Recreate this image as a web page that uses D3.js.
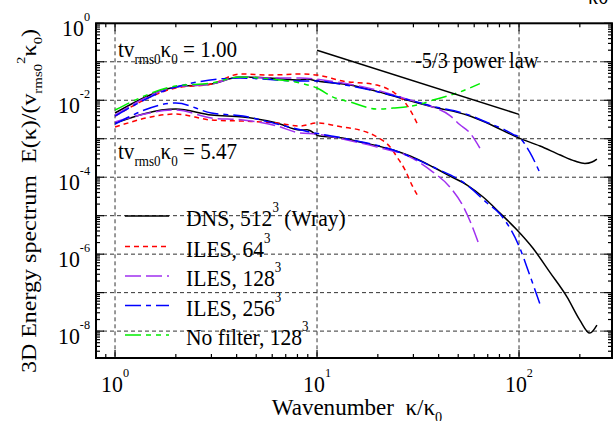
<!DOCTYPE html>
<html>
<head>
<meta charset="utf-8">
<script src="https://cdn.jsdelivr.net/npm/d3@7"></script>
<style>
  body { margin: 0; background: #fff; }
  svg { display: block; font-family: "Liberation Serif", "Times New Roman", serif; }
</style>
</head>
<body>
<svg id="chart" width="613" height="421"></svg>
<script>

// ---- data: [wavenumber k/k0, E(k)] ----
const dns_t1 = [[1, 4.66e-3], [2, 0.0221], [3, 0.0264], [4.16, 0.0402], [5.85, 0.0378], [8.24, 0.0336], [8.92, 0.0355], [10, 0.0316], [14.6, 0.0249], [21.2, 0.0154], [25.8, 0.0114], [37.5, 6.67e-3], [55.3, 4.13e-3], [69.5, 2.56e-3], [100, 1.04e-3], [127, 6.46e-4], [160, 3.77e-4], [189, 2.63e-4], [212, 2.27e-4], [230, 2.48e-4], [243, 2.96e-4]];
const dns_t5 = [[1, 2.56e-3], [2, 5.91e-3], [3, 4.13e-3], [4.3, 3.66e-3], [6.34, 2.56e-3], [8.24, 1.68e-3], [8.92, 1.7e-3], [10.3, 1.17e-3], [13.4, 1.04e-3], [16.3, 8.2e-4], [23.8, 5.08e-4], [28.9, 3.55e-4], [37.5, 1.84e-4], [45.5, 1.07e-4], [55.3, 6.25e-5], [66.4, 3.05e-5], [80.5, 1.17e-5], [97.8, 4.23e-6], [117, 1.44e-6], [142, 3.42e-7], [173, 7.66e-8], [200, 1.93e-8], [224, 8.87e-9], [243, 1.43e-8]];

const iles64_t1 = [[1, 3.86e-3], [2, 0.0208], [3, 0.0264], [4.16, 0.0481], [5.85, 0.0453], [8.24, 0.0481], [10, 0.0453], [13.4, 0.0316], [19.8, 0.0249], [23.8, 0.0164], [26.7, 0.0101], [28.9, 5.57e-3], [31.6, 2.27e-3]];
const iles64_t5 = [[1, 2.01e-3], [2, 4.38e-3], [3, 3.06e-3], [4.3, 2.87e-3], [6.34, 2.56e-3], [8.24, 2.14e-3], [10, 2.56e-3], [13.4, 2.01e-3], [16.3, 1.68e-3], [19.8, 1.11e-3], [23, 6.08e-4], [24.9, 3.34e-4], [27.3, 1.53e-4], [29.5, 6.25e-5], [31.6, 3.24e-5]];

const iles128_t1 = [[1, 4.1e-3], [2, 0.0221], [3, 0.0264], [4.16, 0.0402], [5.85, 0.0378], [8.24, 0.0378], [13.4, 0.028], [19.8, 0.0184], [28.9, 0.0101], [35.1, 7.5e-3], [45.5, 4.0e-3], [51, 2.3e-3], [57.2, 1.4e-3], [64, 5.73e-4]];
const iles128_t5 = [[1, 2.72e-3], [2, 5.57e-3], [3, 3.45e-3], [4.3, 3.06e-3], [6.34, 2.14e-3], [8.24, 1.41e-3], [10, 1.32e-3], [13.4, 9.8e-4], [19.8, 6.08e-4], [28.9, 3.34e-4], [37.5, 1.36e-4], [45.5, 5.55e-5], [52.8, 1.78e-5], [57.2, 7.24e-6], [62.7, 2.06e-6]];

const iles256_t1 = [[1, 3.86e-3], [2, 0.0221], [4.16, 0.0378], [8.24, 0.0316], [10, 0.0316], [14.6, 0.0236], [21.2, 0.0154], [37.5, 6.95e-3], [55.3, 4.3e-3], [69.5, 2.65e-3], [85.3, 1.68e-3], [93.4, 1.3e-3], [100, 1.1e-3], [113, 4.5e-4], [127, 1.28e-4]];
const iles256_t5 = [[1, 2.41e-3], [2, 8.47e-3], [3, 4.66e-3], [4.3, 3.89e-3], [6.34, 2.41e-3], [9.23, 1.49e-3], [13.4, 1.04e-3], [23.8, 5.08e-4], [37.5, 1.84e-4], [55.3, 6.25e-5], [69.5, 2.13e-5], [80.5, 1.1e-5], [100, 1.62e-6], [113, 2.86e-7], [127, 5.04e-8]];

const nofilter_t1 = [[1, 5.57e-3], [2, 0.0234], [3, 0.028], [4.16, 0.0402], [5.85, 0.0356], [8.24, 0.028], [10, 0.0208], [12, 0.0121], [14.6, 9.0e-3], [19.8, 5.9e-3], [23.8, 6.28e-3], [31.3, 7.5e-3], [37.5, 0.0101], [49.3, 0.0154], [64, 0.027]];

const powerLaw = [[10, 0.2], [100, 0.0043]];

const xMajor = [1, 10, 100];
const yDecades = [1, 1e-1, 1e-2, 1e-3, 1e-4, 1e-5, 1e-6, 1e-7, 1e-8];
const yLabelVals = [1, 1e-2, 1e-4, 1e-6, 1e-8];
const yLabelExp = ["0", "-2", "-4", "-6", "-8"];
const xLabelExp = ["0", "1", "2"];

const legendNames = [
  [{t: "DNS, 512"}, {t: "3", sup: true}, {t: " (Wray)"}],
  [{t: "ILES, 64"}, {t: "3", sup: true}],
  [{t: "ILES, 128"}, {t: "3", sup: true}],
  [{t: "ILES, 256"}, {t: "3", sup: true}],
  [{t: "No filter, 128"}, {t: "3", sup: true}]
];

// ---- setup ----
const svg = d3.select("#chart");
const pLeft = 96, pRight = 612, pTop = 23.3, pBottom = 358;

const x = d3.scaleLog().domain([0.805, 288.6]).range([pLeft, pRight]);
const y = d3.scaleLog().domain([1, 2e-9]).range([pTop, pBottom]);

const styles = [
  {color: "#000000", dash: null},
  {color: "#ff0000", dash: "5,4"},
  {color: "#a030f0", dash: "16,5"},
  {color: "#0000ff", dash: "16,5,5,5"},
  {color: "#00ee00", dash: "16,5,5,5,5,5"}
];

const curves = [
  {data: dns_t1, s: 0}, {data: dns_t5, s: 0},
  {data: iles64_t1, s: 1}, {data: iles64_t5, s: 1},
  {data: iles128_t1, s: 2}, {data: iles128_t5, s: 2},
  {data: iles256_t1, s: 3}, {data: iles256_t5, s: 3},
  {data: nofilter_t1, s: 4}
];

// text with sub/superscripts; the original lettering is a bit narrow, so sx squeezes it
const rich = (px, py, parts, o) => {
  let size = o.size, sx = o.sx || 1;
  let g = svg.append("g")
    .attr("transform", o.rotate
      ? `translate(${px},${py}) rotate(-90) scale(1,${sx})`
      : `translate(${px},${py}) scale(${sx},1)`);
  let t = g.append("text")
    .attr("font-size", size)
    .attr("text-anchor", o.anchor || "start")
    .style("white-space", "pre");
  let prev = 0;
  parts.forEach(p => {
    let shift = p.sub ? size * 0.28 : p.sup ? -size * (o.supUp || 0.55) : 0;
    t.append("tspan")
      .attr("dy", shift - prev)
      .attr("font-size", (p.sub || p.sup) ? size * (o.small || 0.62) : size)
      .text(p.t);
    prev = shift;
  });
  return t;
};

svg.append("clipPath").attr("id", "clip")
  .append("rect").attr("x", pLeft).attr("y", pTop)
  .attr("width", pRight - pLeft).attr("height", pBottom - pTop);

// grid
const grid = svg.append("g").attr("stroke", "#333").attr("stroke-width", 1)
  .attr("stroke-dasharray", "4,3").attr("fill", "none");
yDecades.slice(1).forEach(v => {
  grid.append("line").attr("x1", pLeft).attr("x2", pRight)
    .attr("y1", y(v)).attr("y2", y(v));
});
xMajor.forEach(v => {
  grid.append("line").attr("y1", pTop).attr("y2", pBottom)
    .attr("x1", x(v)).attr("x2", x(v));
});

// curves
const line = d3.line()
  .x(d => x(d[0]))
  .y(d => y(d[1]))
  .curve(d3.curveMonotoneX);

const plot = svg.append("g").attr("clip-path", "url(#clip)");
curves.forEach(c => {
  let st = styles[c.s];
  plot.append("path")
    .attr("d", line(c.data))
    .attr("fill", "none")
    .attr("stroke", st.color)
    .attr("stroke-width", 1.5)
    .attr("stroke-dasharray", st.dash);
});

plot.append("path")
  .attr("d", d3.line().x(d => x(d[0])).y(d => y(d[1]))(powerLaw))
  .attr("fill", "none").attr("stroke", "#000").attr("stroke-width", 1.5);

// ticks (inward, all four sides)
const ticks = svg.append("g").attr("stroke", "#000").attr("stroke-width", 1.2);
let yMinor = [];
for (let d = -9; d < 0; d++) {
  for (let m = 2; m <= 9; m++) {
    let v = m * Math.pow(10, d);
    if (v >= 2e-9 && v < 1) yMinor.push(v);
  }
}
yDecades.forEach(v => {
  ticks.append("line").attr("x1", pLeft).attr("x2", pLeft + 8).attr("y1", y(v)).attr("y2", y(v));
  ticks.append("line").attr("x1", pRight).attr("x2", pRight - 8).attr("y1", y(v)).attr("y2", y(v));
});
yMinor.forEach(v => {
  ticks.append("line").attr("x1", pLeft).attr("x2", pLeft + 4).attr("y1", y(v)).attr("y2", y(v));
  ticks.append("line").attr("x1", pRight).attr("x2", pRight - 4).attr("y1", y(v)).attr("y2", y(v));
});
let xMinor = [0.9];
[1, 10, 100].forEach(b => {
  for (let m = 2; m <= 9; m++) if (m * b < 288) xMinor.push(m * b);
});
xMajor.forEach(v => {
  ticks.append("line").attr("x1", x(v)).attr("x2", x(v)).attr("y1", pBottom).attr("y2", pBottom - 8);
  ticks.append("line").attr("x1", x(v)).attr("x2", x(v)).attr("y1", pTop).attr("y2", pTop + 8);
});
xMinor.forEach(v => {
  ticks.append("line").attr("x1", x(v)).attr("x2", x(v)).attr("y1", pBottom).attr("y2", pBottom - 4);
  ticks.append("line").attr("x1", x(v)).attr("x2", x(v)).attr("y1", pTop).attr("y2", pTop + 4);
});

// frame
svg.append("rect").attr("x", pLeft).attr("y", pTop)
  .attr("width", pRight - pLeft).attr("height", pBottom - pTop)
  .attr("fill", "none").attr("stroke", "#000").attr("stroke-width", 2);

// tick labels
const tickFont = {size: 23, sx: 0.95, supUp: 0.65, small: 0.56};
yLabelVals.forEach((v, i) => {
  rich(90, y(v) + 13, [{t: "10"}, {t: yLabelExp[i], sup: true}], {...tickFont, anchor: "end"});
});
xMajor.forEach((v, i) => {
  rich(x(v), 392, [{t: "10"}, {t: xLabelExp[i], sup: true}], {...tickFont, anchor: "middle"});
});

// axis titles
rich(357, 415, [{t: "Wavenumber  κ/κ"}, {t: "0", sub: true}], {size: 24, sx: 0.96, anchor: "middle"});
rich(36, 201, [{t: "3D Energy spectrum  E(κ)/(v"}, {t: "rms0", sub: true}, {t: "2", sup: true},
  {t: "κ"}, {t: "0", sub: true}, {t: ")"}], {size: 24, sx: 0.85, anchor: "middle", rotate: true});

// annotations
const noteFont = {size: 24, sx: 0.88};
rich(118, 57, [{t: "tv"}, {t: "rms0", sub: true}, {t: "κ"}, {t: "0", sub: true}, {t: " = 1.00"}], noteFont);
rich(118, 159, [{t: "tv"}, {t: "rms0", sub: true}, {t: "κ"}, {t: "0", sub: true}, {t: " = 5.47"}], noteFont);
rich(415, 68, [{t: "-5/3 power law"}], {size: 24, sx: 0.85});
rich(588, 4, [{t: "κ0"}], {size: 24, sx: 0.85});

// legend
const legendY = [216, 246.5, 276, 305.5, 335];
legendNames.forEach((name, i) => {
  let st = styles[i];
  svg.append("line")
    .attr("x1", 125).attr("x2", 169)
    .attr("y1", legendY[i]).attr("y2", legendY[i])
    .attr("stroke", st.color).attr("stroke-width", 1.5)
    .attr("stroke-dasharray", st.dash);
  rich(186, legendY[i] + 10, name, {size: 24, sx: 0.9, supUp: 0.58, small: 0.6});
});

</script>
</body>
</html>
